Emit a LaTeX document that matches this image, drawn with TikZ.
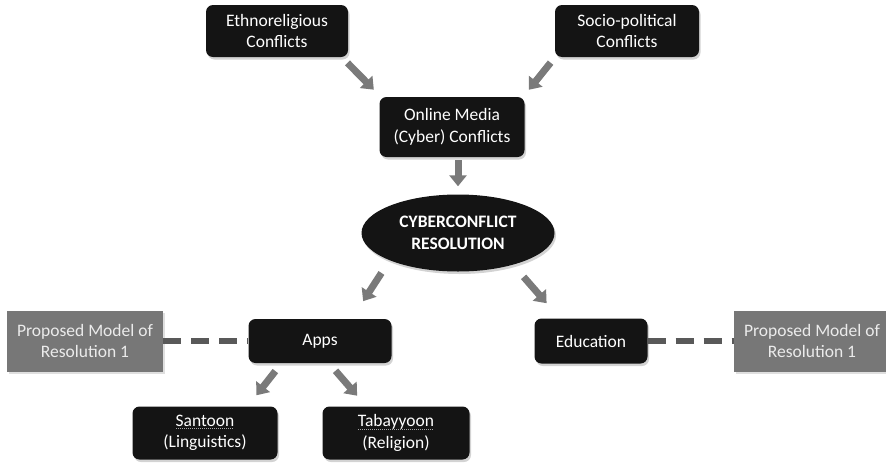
\documentclass[tikz,border=0pt]{standalone}
\usepackage{fontspec}
\setmainfont{Carlito}
\usetikzlibrary{arrows.meta,shapes.geometric,shadows}
\definecolor{boxBlack}{HTML}{141414}
\definecolor{boxGrey}{HTML}{777777}
\definecolor{arrowGrey}{HTML}{7A7A7A}
\definecolor{dashGrey}{HTML}{595959}
\newcommand{\spellMark}[1]{%%
  \sbox0{#1}\rlap{\usebox0}%%
  \raisebox{-2.5pt}{\color{white!65!black}%%
    \leaders\hbox to 2pt{\hss\rule{1pt}{0.6pt}\hss}\hskip\wd0}%%
}

\begin{document}
\begin{tikzpicture}[%%
  x=1pt, y=-1pt,
  font=\fontsize{17.5}{21.5}\selectfont,
  darkBox/.style={rectangle, rounded corners=7pt, fill=boxBlack,
    text=white, align=center, inner sep=0pt,
    drop shadow={shadow xshift=1.5pt, shadow yshift=-2.5pt, opacity=0.35}},
  greyBox/.style={rectangle, fill=boxGrey, text=white!92!black,
    align=center, inner sep=0pt,
    drop shadow={shadow xshift=1.5pt, shadow yshift=-2pt, opacity=0.25}},
  fatArrow/.style={draw=arrowGrey, line width=7pt,
    -{Triangle[width=17pt,length=11pt]}},
  dashLine/.style={draw=dashGrey, line width=6pt, dash pattern=on 18pt off 10pt}%%
]
%%
%%
\useasboundingbox (0,0) rectangle (886,464);
%%
%% Sources of conflict.
\node[darkBox, minimum width=142pt, minimum height=52pt] (ethno) at (277,31)
  {Ethnoreligious\\Conflicts};
\node[darkBox, minimum width=144pt, minimum height=52pt] (socio) at (627,31)
  {Socio-political\\Conflicts};
\node[darkBox, minimum width=145pt, minimum height=60pt] (online) at (452,127)
  {Online Media\\(Cyber) Conflicts};
%%
%% Central resolution.
\node[ellipse, fill=boxBlack, text=white, align=center, inner sep=0pt,
  minimum width=193pt, minimum height=77pt, font=\fontsize{17.5}{21.5}\selectfont\bfseries,
  drop shadow={shadow xshift=1.5pt, shadow yshift=-2.5pt, opacity=0.35}]
  (cyber) at (458,233) {CYBERCONFLICT\\RESOLUTION};
%%
%% Means of resolution.
\node[darkBox, minimum width=143pt, minimum height=44pt] (apps) at (320,341) {Apps};
\node[darkBox, minimum width=113pt, minimum height=45pt] (education) at (591,341) {Education};
\node[greyBox, minimum width=156pt, minimum height=61pt] (leftModel) at (85,341)
  {Proposed Model of\\Resolution 1};
\node[greyBox, minimum width=156pt, minimum height=61pt] (rightModel) at (812,341)
  {Proposed Model of\\Resolution 1};
\node[darkBox, minimum width=145pt, minimum height=53pt] (santoon) at (205,433)
  {\spellMark{Santoon}\\(Linguistics)};
\node[darkBox, minimum width=147pt, minimum height=53pt] (tabayyoon) at (396,433)
  {\spellMark{Tabayyoon}\\(Religion)};
%%
%% Arrows.
\draw[fatArrow, shorten <=8pt, shorten >=10pt] (ethno.-22) -- (online.157);
\draw[fatArrow, shorten <=7pt, shorten >=9pt] (socio.200) -- (online.23);
\draw[fatArrow, shorten <=3pt, shorten >=8pt] (online.south -| cyber.north) -- (cyber.north);
\draw[fatArrow, shorten <=15pt, shorten >=21pt] (cyber.south west) -- (apps.35);
\draw[fatArrow, shorten <=16pt, shorten >=20pt] (cyber.330) -- (education.144);
\draw[fatArrow, shorten <=10pt, shorten >=14pt] (apps.210) -- (santoon.32);
\draw[fatArrow, shorten <=10pt, shorten >=14pt] (apps.-68) -- (tabayyoon.138);
%%
%% Links to the proposed models.
\draw[dashLine] (leftModel) -- (apps);
\draw[dashLine] (education) -- (rightModel);
\end{tikzpicture}
\end{document}
